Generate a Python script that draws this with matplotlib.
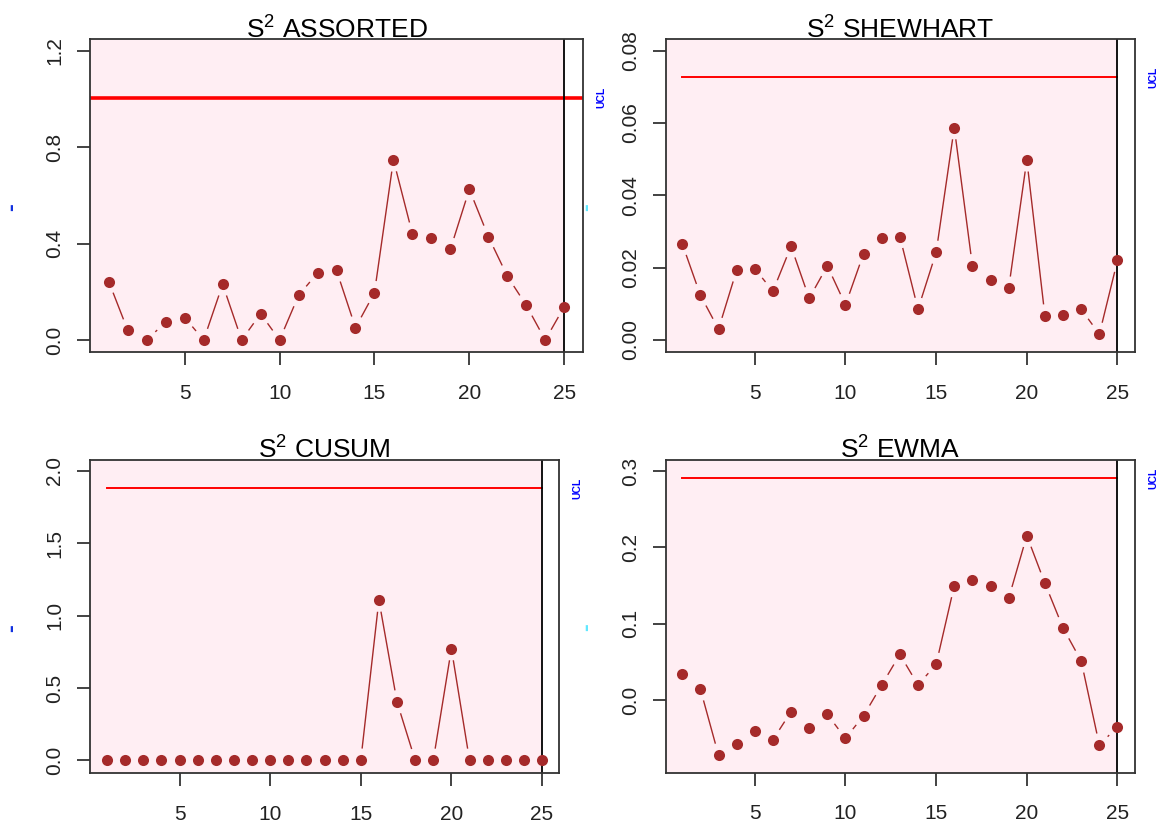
import numpy as np
import matplotlib
matplotlib.use('Agg')
import matplotlib.pyplot as plt
from matplotlib.transforms import blended_transform_factory

plt.rcParams['font.family'] = ['Liberation Sans', 'DejaVu Sans']
plt.rcParams['mathtext.fontset'] = 'custom'
plt.rcParams['mathtext.rm'] = 'Liberation Sans'

# ---------------- data ----------------
samples = np.arange(1, 26)

assorted = [0.242, 0.040, 0.000, 0.075, 0.093, 0.000, 0.231, 0.000, 0.109, 0.000,
            0.185, 0.278, 0.289, 0.051, 0.196, 0.747, 0.440, 0.422, 0.376, 0.625,
            0.429, 0.265, 0.144, 0.000, 0.138]
shewhart = [0.0266, 0.0124, 0.0030, 0.0193, 0.0197, 0.0135, 0.0259, 0.0115, 0.0205, 0.0097,
            0.0239, 0.0281, 0.0286, 0.0085, 0.0242, 0.0587, 0.0205, 0.0166, 0.0143, 0.0498,
            0.0066, 0.0070, 0.0085, 0.0016, 0.0220]
cusum = [0, 0, 0, 0, 0, 0, 0, 0, 0, 0, 0, 0, 0, 0, 0,
         1.108, 0.403, 0, 0, 0.772, 0, 0, 0, 0, 0]
ewma = [0.0341, 0.0144, -0.0721, -0.0572, -0.0410, -0.0520, -0.0153, -0.0371, -0.0188, -0.0502,
        -0.0205, 0.0197, 0.0598, 0.0197, 0.0467, 0.1498, 0.1568, 0.1493, 0.1332, 0.2153,
        0.1528, 0.0943, 0.0511, -0.0590, -0.0349]

ucl_values = [1.005, 0.0727, 1.882, 0.2904]
chart_names = ['ASSORTED', 'SHEWHART', 'CUSUM', 'EWMA']
x_ticks = [5, 10, 15, 20, 25]
y_ticks = [[0.0, 0.4, 0.8, 1.2],
           [0.00, 0.02, 0.04, 0.06, 0.08],
           [0.0, 0.5, 1.0, 1.5, 2.0],
           [0.0, 0.1, 0.2, 0.3]]
y_ticklabels = [['0.0', '0.4', '0.8', '1.2'],
                ['0.00', '0.02', '0.04', '0.06', '0.08'],
                ['0.0', '0.5', '1.0', '1.5', '2.0'],
                ['0.0', '0.1', '0.2', '0.3']]
series = [assorted, shewhart, cusum, ewma]

# ---------------- layout (pixels) ----------------
W, H = 1162, 827
boxes = [(90.2, 583.2, 39.3, 352.3),
         (666.1, 1134.9, 39.3, 352.3),
         (90.2, 558.7, 460.0, 773.3),
         (666.1, 1134.9, 460.0, 772.7)]
xlims = [(0.02, 26.0), (0.11, 25.96), (0.07, 25.92), (0.11, 25.96)]
ylims = [(-0.051, 1.247), (-0.0034, 0.0831), (-0.0899, 2.076), (-0.0952, 0.3144)]
left_mark_colors = ['#1030e0', '#60e8ff', '#1030e0', '#60e8ff']

PINK = '#FFEEF3'
BROWN = '#A52A2A'

fig = plt.figure(figsize=(W / 100, H / 100), dpi=100)


def gapped_segments(ax, x, y, gap_px=12.5):
    pts = ax.transData.transform(np.column_stack([x, y]))
    out = []
    for i in range(len(pts) - 1):
        p, q = pts[i], pts[i + 1]
        d = q - p
        L = np.hypot(d[0], d[1])
        if L <= 2 * gap_px:
            continue
        u = d / L
        a = p + u * gap_px
        b = q - u * gap_px
        out.append(a)
        out.append(b)
        out.append([np.nan, np.nan])
    if not out:
        return np.array([]), np.array([])
    out = np.array(out)
    res = np.full_like(out, np.nan)
    ok = ~np.isnan(out[:, 0])
    res[ok] = ax.transData.inverted().transform(out[ok])
    return res[:, 0], res[:, 1]


for k in range(4):
    l, r, t, b = boxes[k]
    ax = fig.add_axes([l / W, 1 - b / H, (r - l) / W, (b - t) / H])
    ax.set_xlim(*xlims[k])
    ax.set_ylim(*ylims[k])
    axw, axh = r - l, b - t

    # pink background up to the last sample
    ax.axvspan(xlims[k][0], samples[-1], color=PINK, lw=0, zorder=0.2)
    ax.axvline(samples[-1], color='black', lw=1.3, zorder=2.2)

    # UCL
    if k == 0:
        ax.axhline(ucl_values[k], color='red', lw=2.6, zorder=2.1)
    else:
        ax.plot([samples[0], samples[-1]], [ucl_values[k]] * 2, color='red', lw=1.4, zorder=2.1)
    trans = blended_transform_factory(ax.transAxes, ax.transData)
    ax.text(1 + 18.5 / axw, ucl_values[k], 'UCL', transform=trans, rotation=90,
            color='blue', fontsize=7.5, fontweight='bold', ha='center', va='center')

    # data
    gx, gy = gapped_segments(ax, samples, series[k])
    ax.plot(gx, gy, color=BROWN, lw=1.0, zorder=2.5)
    ax.plot(samples, series[k], 'o', color=BROWN, ms=8.0, mew=0, zorder=3)

    # title
    ax.text(0.5, 1.0 + 1.0 / axh, r'$\mathregular{S^2}$ ' + chart_names[k],
            transform=ax.transAxes, ha='center', va='baseline', fontsize=19,
            zorder=0.1, clip_on=False)

    # small left margin mark
    ax.text(-79.0 / axw, 0.5 - 11.0 / axh, '-', transform=ax.transAxes, rotation=90,
            color=left_mark_colors[k], fontsize=17, fontweight='bold',
            ha='center', va='center')

    # axes styling
    ax.set_xticks(x_ticks)
    ax.set_xticklabels([str(v) for v in x_ticks])
    ax.set_yticks(y_ticks[k])
    ax.set_yticklabels(y_ticklabels[k], rotation=90, va='center')
    ax.tick_params(axis='both', direction='out', length=9.2, width=1.2,
                   color='#222222', labelsize=15, labelcolor='#222222')
    ax.tick_params(axis='x', pad=13.5)
    ax.tick_params(axis='y', pad=9.5)
    for sp in ax.spines.values():
        sp.set_color('#333333')
        sp.set_linewidth(1.3)
        sp.set_zorder(2.6)

fig.savefig('out.png', dpi=100)
